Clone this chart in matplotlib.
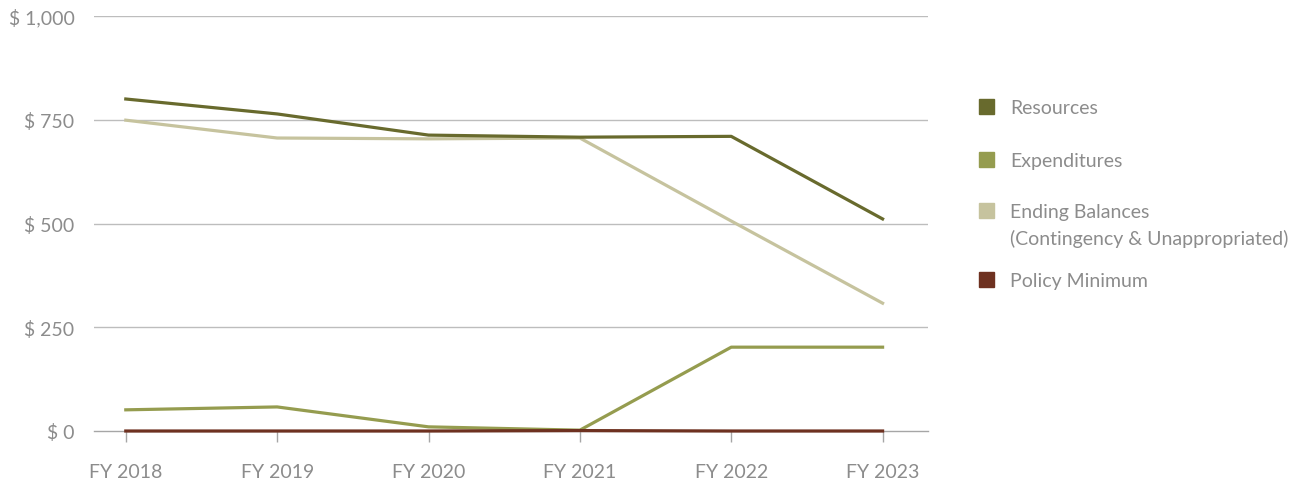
import matplotlib.pyplot as plt
from matplotlib.patches import Rectangle

years = ["FY 2018", "FY 2019", "FY 2020", "FY 2021", "FY 2022", "FY 2023"]
resources = [800, 764, 713, 708, 710, 511]
expenditures = [51, 58, 10, 2, 202, 202]
ending_balances = [749, 706, 704, 706, 506, 308]
policy_minimum = [0, 0, 0, 1, 0, 0]

y_ticks = [0, 250, 500, 750, 1000]
y_labels = ["$ 0", "$ 250", "$ 500", "$ 750", "$ 1,000"]

series_names = ["Resources", "Expenditures",
                "Ending Balances\n(Contingency & Unappropriated)", "Policy Minimum"]
colors = ["#686a2d", "#959c4f", "#c6c39e", "#6e3120"]

plt.rcParams["font.family"] = ["Lato", "DejaVu Sans"]
text_gray = "#8c8c8c"

fig = plt.figure(figsize=(13.02, 4.85), dpi=100)
ax = fig.add_axes([94 / 1302, 53 / 485, 834 / 1302, 415 / 485])

x = list(range(len(years)))
ax.plot(x, ending_balances, color=colors[2], lw=2.3, clip_on=False, zorder=3)
ax.plot(x, resources, color=colors[0], lw=2.3, clip_on=False, zorder=4)
ax.plot(x, expenditures, color=colors[1], lw=2.3, clip_on=False, zorder=4)
ax.plot(x, policy_minimum, color=colors[3], lw=2.3, clip_on=False, zorder=5)

ax.set_xlim(-0.21, 5.30)
ax.set_ylim(0, 1000)
ax.set_yticks(y_ticks)
ax.set_yticklabels(y_labels)
ax.set_xticks(x)
ax.set_xticklabels(years)
for v in y_ticks[1:]:
    ax.axhline(v, color="#bdbdbd", lw=1, zorder=1)
ax.axhline(0, color="#a6a6a6", lw=1, zorder=1, clip_on=False)

for s in ax.spines.values():
    s.set_visible(False)
ax.tick_params(axis="y", length=0, pad=14, labelsize=14, labelcolor=text_gray)
ax.tick_params(axis="x", direction="out", length=8, width=1, color="#a6a6a6",
               pad=15, labelsize=14, labelcolor=text_gray)

# legend
legend_rows = [107, 160, 211, 280]
for name, color, ypix in zip(series_names, colors, legend_rows):
    fig.patches.append(Rectangle((979 / 1302, 1 - (ypix + 8) / 485), 15 / 1302, 15 / 485,
                                 transform=fig.transFigure, color=color, figure=fig))
    for i, line in enumerate(name.split("\n")):
        fig.text(1010 / 1302, 1 - (ypix + i * 26) / 485, line, ha="left",
                 va="center_baseline", fontsize=14, color=text_gray)

fig.savefig("out.png", dpi=100)
